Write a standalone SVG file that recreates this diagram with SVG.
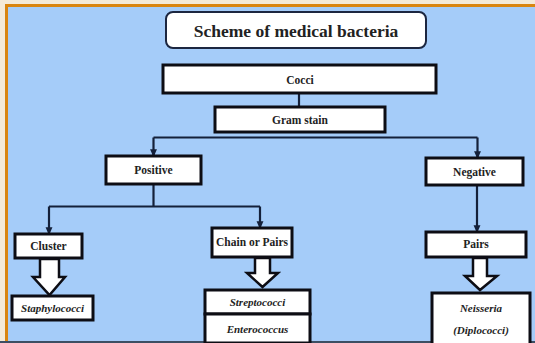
<svg xmlns="http://www.w3.org/2000/svg" width="535" height="343" viewBox="0 0 535 343">
<defs>
<style>
.bg{fill:#a5ccf9}
.box{fill:#ffffff;stroke:#0d0d14;stroke-width:3}
.title{fill:#ffffff;stroke:#1c2640;stroke-width:2}
.ln{fill:none;stroke:#14203a;stroke-width:2.2}
.hol{fill:#ffffff;stroke:#0d0d14;stroke-width:2.5;stroke-linejoin:miter}
text{font-family:"Liberation Serif","Times New Roman",serif;font-weight:bold;fill:#222;text-anchor:middle}
.t{font-size:17.5px}
.l{font-size:11.5px}
.i{font-size:11px;font-style:italic}
</style>
<marker id="ah" markerWidth="8" markerHeight="8" refX="6" refY="3" orient="auto" markerUnits="userSpaceOnUse" viewBox="0 0 7 6">
<path d="M0,0 L7,3 L0,6 Z" fill="#14203a"/>
</marker>
</defs>
<rect x="0" y="0" width="535" height="343" fill="#f4ead8"/>
<rect x="5" y="4" width="530" height="339" fill="#d98510"/>
<rect x="8" y="7" width="527" height="334" class="bg"/>
<rect x="0" y="341" width="535" height="2" fill="#3d4f63"/>

<g id="connectors">
<line class="ln" x1="299" y1="93" x2="299" y2="107"/>
<line class="ln" x1="153.5" y1="137.5" x2="477.5" y2="137.5"/>
<line class="ln" x1="153.5" y1="137.5" x2="153.5" y2="156" marker-end="url(#ah)"/>
<line class="ln" x1="477.5" y1="137.5" x2="477.5" y2="158" marker-end="url(#ah)"/>
<line class="ln" x1="153.5" y1="184" x2="153.5" y2="206.5"/>
<line class="ln" x1="49" y1="206.5" x2="260" y2="206.5"/>
<line class="ln" x1="49" y1="206.5" x2="49" y2="234" marker-end="url(#ah)"/>
<line class="ln" x1="260" y1="206.5" x2="260" y2="228" marker-end="url(#ah)"/>
<line class="ln" x1="477" y1="185" x2="477" y2="232" marker-end="url(#ah)"/>
<path class="hol" d="M40,259 L59,259 L59,277 L65,277 L49.5,295 L33,277 L40,277 Z"/>
<path class="hol" d="M255,258 L270,258 L270,273 L278,273 L262.5,287 L247,273 L255,273 Z"/>
<path class="hol" d="M473,258 L487,258 L487,276 L497,276 L480,290 L465,276 L473,276 Z"/>
</g>

<g id="title">
<rect class="title" x="166" y="12" width="260" height="36" rx="7"/>
<text class="t" x="296" y="36.5">Scheme of medical bacteria</text>
</g>
<g id="cocci">
<rect class="box" x="163" y="65" width="273" height="28"/>
<text class="l" x="300" y="83.5">Cocci</text>
</g>
<g id="gram">
<rect class="box" x="215" y="107" width="170" height="25"/>
<text class="l" x="300" y="123.5">Gram stain</text>
</g>
<g id="positive">
<rect class="box" x="106" y="156" width="95" height="28"/>
<text class="l" x="153.5" y="174">Positive</text>
</g>
<g id="negative">
<rect class="box" x="426" y="158" width="97" height="27"/>
<text class="l" x="474.5" y="176">Negative</text>
</g>
<g id="cluster">
<rect class="box" x="15" y="234" width="67" height="24"/>
<text class="l" x="48.5" y="250">Cluster</text>
</g>
<g id="chain">
<rect class="box" x="212" y="228" width="80" height="29"/>
<text class="l" x="252" y="246">Chain or Pairs</text>
</g>
<g id="pairs">
<rect class="box" x="426" y="232" width="100" height="25"/>
<text class="l" x="476" y="248">Pairs</text>
</g>
<g id="staphylococci">
<rect class="box" x="12" y="296" width="81" height="24"/>
<text class="i" x="52.5" y="312">Staphylococci</text>
</g>
<g id="streptococci">
<rect class="box" x="205" y="290" width="105" height="24"/>
<text class="i" x="257.5" y="306">Streptococci</text>
</g>
<g id="enterococcus">
<rect class="box" x="205" y="314" width="105" height="29"/>
<text class="i" x="257.5" y="333">Enterococcus</text>
</g>
<g id="neisseria">
<rect class="box" x="432" y="293" width="98" height="52"/>
<text class="i" x="481" y="312">Neisseria</text>
<text class="i" x="481" y="334">(Diplococci)</text>
</g>
</svg>
